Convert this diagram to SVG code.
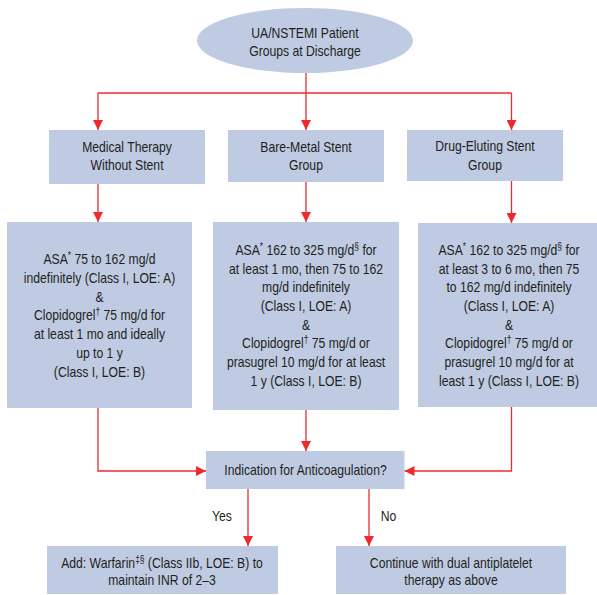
<svg xmlns="http://www.w3.org/2000/svg" width="597" height="595" viewBox="0 0 597 595">
<style>
.box{fill:#bfcbe3;}
.t{font-family:"Liberation Sans",Arial,sans-serif;font-size:14.5px;fill:#231f20;text-anchor:middle;}
.c{stroke:#ee2a2f;stroke-width:1.3;fill:none;}
.sup{font-size:10px;}
</style>
<defs>
<marker id="ah" viewBox="0 0 10 10" refX="10" refY="5" markerWidth="10" markerHeight="10" markerUnits="userSpaceOnUse" orient="auto">
<path d="M0,0 L10,5 L0,10 Z" fill="#ee2a2f"/>
</marker>
</defs>
<rect width="597" height="595" fill="#ffffff"/>
<g id="connectors">
<path class="c" d="M306,73 V93"/>
<path class="c" d="M98,93 H511.5"/>
<path class="c" d="M98,93 V130" marker-end="url(#ah)"/>
<path class="c" d="M306,93 V130" marker-end="url(#ah)"/>
<path class="c" d="M511.5,93 V130" marker-end="url(#ah)"/>
<path class="c" d="M98,184 V222" marker-end="url(#ah)"/>
<path class="c" d="M306,182 V222" marker-end="url(#ah)"/>
<path class="c" d="M511.5,181 V223" marker-end="url(#ah)"/>
<path class="c" d="M98,408 V471 H206" marker-end="url(#ah)"/>
<path class="c" d="M306,410 V451" marker-end="url(#ah)"/>
<path class="c" d="M511.5,407 V471 H404.5" marker-end="url(#ah)"/>
<path class="c" d="M248,489 V546" marker-end="url(#ah)"/>
<path class="c" d="M369,489 V546" marker-end="url(#ah)"/>
<g transform="translate(222 0) scale(0.84 1)"><text class="t" x="0" y="521">Yes</text></g>
<g transform="translate(388.5 0) scale(0.84 1)"><text class="t" x="0" y="521">No</text></g>
</g>
<g id="start">
<ellipse cx="305" cy="40.5" rx="108" ry="32.5" class="box"/>
<g transform="translate(305 0) scale(0.84 1)">
<text class="t" x="0" y="38">UA/NSTEMI Patient</text>
<text class="t" x="0" y="56">Groups at Discharge</text>
</g>
</g>
<g id="medical">
<rect x="49" y="130" width="156" height="54" class="box"/>
<g transform="translate(127 0) scale(0.84 1)">
<text class="t" x="0" y="152.5">Medical Therapy</text>
<text class="t" x="0" y="170.5">Without Stent</text>
</g>
</g>
<g id="bms">
<rect x="228" y="130" width="156" height="52" class="box"/>
<g transform="translate(306 0) scale(0.84 1)">
<text class="t" x="0" y="152">Bare-Metal Stent</text>
<text class="t" x="0" y="170">Group</text>
</g>
</g>
<g id="des">
<rect x="407" y="130" width="156" height="51" class="box"/>
<g transform="translate(485 0) scale(0.84 1)">
<text class="t" x="0" y="151.5">Drug-Eluting Stent</text>
<text class="t" x="0" y="170">Group</text>
</g>
</g>
<g id="medical-rx">
<rect x="7" y="222" width="185" height="186" class="box"/>
<g transform="translate(99.5 0) scale(0.84 1)">
<text class="t" x="0" y="264">ASA<tspan class="sup" dy="-5">*</tspan><tspan dy="5"> 75 to 162 mg/d</tspan></text>
<text class="t" x="0" y="282.8">indefinitely (Class I, LOE: A)</text>
<text class="t" x="0" y="301.6">&amp;</text>
<text class="t" x="0" y="320.4">Clopidogrel<tspan class="sup" dy="-5">†</tspan><tspan dy="5"> 75 mg/d for</tspan></text>
<text class="t" x="0" y="339.2">at least 1 mo and ideally</text>
<text class="t" x="0" y="358">up to 1 y</text>
<text class="t" x="0" y="376.8">(Class I, LOE: B)</text>
</g>
</g>
<g id="bms-rx">
<rect x="213" y="222" width="186" height="188" class="box"/>
<g transform="translate(306 0) scale(0.84 1)">
<text class="t" x="0" y="255">ASA<tspan class="sup" dy="-5">*</tspan><tspan dy="5"> 162 to 325 mg/d</tspan><tspan class="sup" dy="-5">§</tspan><tspan dy="5"> for</tspan></text>
<text class="t" x="0" y="273.7">at least 1 mo, then 75 to 162</text>
<text class="t" x="0" y="292.4">mg/d indefinitely</text>
<text class="t" x="0" y="311.1">(Class I, LOE: A)</text>
<text class="t" x="0" y="329.8">&amp;</text>
<text class="t" x="0" y="348.5">Clopidogrel<tspan class="sup" dy="-5">†</tspan><tspan dy="5"> 75 mg/d or</tspan></text>
<text class="t" x="0" y="367.2">prasugrel 10 mg/d for at least</text>
<text class="t" x="0" y="385.9">1 y (Class I, LOE: B)</text>
</g>
</g>
<g id="des-rx">
<rect x="418" y="223" width="179" height="184" class="box"/>
<g transform="translate(509 0) scale(0.84 1)">
<text class="t" x="0" y="255">ASA<tspan class="sup" dy="-5">*</tspan><tspan dy="5"> 162 to 325 mg/d</tspan><tspan class="sup" dy="-5">§</tspan><tspan dy="5"> for</tspan></text>
<text class="t" x="0" y="273.7">at least 3 to 6 mo, then 75</text>
<text class="t" x="0" y="292.4">to 162 mg/d indefinitely</text>
<text class="t" x="0" y="311.1">(Class I, LOE: A)</text>
<text class="t" x="0" y="329.8">&amp;</text>
<text class="t" x="0" y="348.5">Clopidogrel<tspan class="sup" dy="-5">†</tspan><tspan dy="5"> 75 mg/d or</tspan></text>
<text class="t" x="0" y="367.2">prasugrel 10 mg/d for at</text>
<text class="t" x="0" y="385.9">least 1 y (Class I, LOE: B)</text>
</g>
</g>
<g id="anticoag">
<rect x="206" y="451" width="198.5" height="38" class="box"/>
<g transform="translate(305.5 0) scale(0.84 1)">
<text class="t" x="0" y="475">Indication for Anticoagulation?</text>
</g>
</g>
<g id="warfarin">
<rect x="47" y="546" width="231" height="48" class="box"/>
<g transform="translate(162 0) scale(0.84 1)">
<text class="t" x="0" y="568">Add: Warfarin<tspan class="sup" dy="-5">‡§</tspan><tspan dy="5"> (Class IIb, LOE: B) to</tspan></text>
<text class="t" x="0" y="585">maintain INR of 2–3</text>
</g>
</g>
<g id="continue">
<rect x="336" y="546" width="230" height="48" class="box"/>
<g transform="translate(451 0) scale(0.84 1)">
<text class="t" x="0" y="568">Continue with dual antiplatelet</text>
<text class="t" x="0" y="585">therapy as above</text>
</g>
</g>
</svg>
